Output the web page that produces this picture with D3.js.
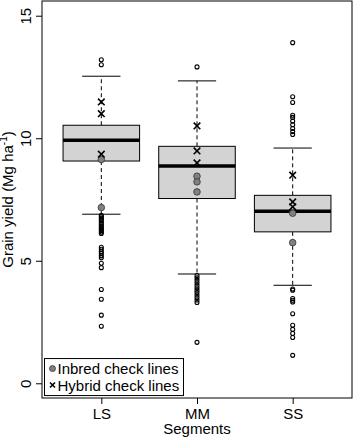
<!DOCTYPE html>
<html>
<head>
<meta charset="utf-8">
<script src="https://cdn.jsdelivr.net/npm/d3@7"></script>
<style>
  body { margin: 0; background: #fff; }
  text { font-family: "Liberation Sans", Arial, sans-serif; }
</style>
</head>
<body>
<div id="chart"></div>
<script>
// Segments on the x axis
const segments = ['LS', 'MM', 'SS'];

// Box statistics per segment (Mg ha-1)
const lowerWhisker = [6.9, 4.46, 4.0];
const q1 = [9.07, 7.54, 6.18];
const median = [9.92, 8.87, 7.02];
const q3 = [10.53, 9.67, 7.67];
const upperWhisker = [12.53, 12.34, 9.6];

// Outliers per segment
const lsOutliers = [13.2, 13.0, 6.86, 6.8, 6.74, 6.68, 6.62, 6.55, 6.48, 6.42, 6.36, 6.3, 6.24, 6.17, 6.11,
  5.55, 5.47, 5.38, 5.3, 5.2, 5.12, 4.9, 4.72, 3.83, 3.43, 2.78, 2.33];
const mmOutliers = [12.91, 4.4, 4.3, 4.2, 4.1, 4.0, 3.9, 3.8, 3.7, 3.6, 3.5, 3.4, 3.3, 1.67];
const ssOutliers = [13.9, 11.69, 11.46, 10.94, 10.85, 10.7, 10.55, 10.4, 10.27, 10.15,
  3.85, 3.8, 3.46, 3.39, 3.32, 2.84, 2.37, 2.2, 2.03, 1.87, 1.14];

// Check lines per segment
const lsInbred = [9.13, 7.17];
const mmInbred = [8.45, 8.22, 7.81];
const ssInbred = [6.94, 5.74];
const lsHybrid = [11.48, 11.0, 9.35];
const mmHybrid = [10.5, 9.48, 8.99];
const ssHybrid = [8.49, 7.4, 7.2];

const yTicks = [0, 5, 10, 15];
const legendLabels = ['Inbred check lines', 'Hybrid check lines'];

const outliers = [lsOutliers, mmOutliers, ssOutliers];
const inbred = [lsInbred, mmInbred, ssInbred];
const hybrid = [lsHybrid, mmHybrid, ssHybrid];

const width = 356;
const height = 440;
const margin = { top: 1, right: 4, bottom: 42, left: 42 };
const innerWidth = width - margin.left - margin.right;
const innerHeight = height - margin.top - margin.bottom;

const svg = d3.select('#chart')
  .append('svg')
  .attr('width', width)
  .attr('height', height)
  .append('g')
  .attr('transform', `translate(${margin.left},${margin.top})`);

// R-style extended ranges
const xScale = d3.scaleLinear()
  .domain([0.38, 3.62])
  .range([0, innerWidth]);

const yScale = d3.scaleLinear()
  .domain([-0.6, 15.6])
  .range([innerHeight, 0]);

const boxHalf = (xScale(1.4) - xScale(1)) ;
const capHalf = (xScale(1.2) - xScale(1));

segments.forEach((seg, i) => {
  const cx = xScale(i + 1);
  const g = svg.append('g');

  // Whiskers (dashed)
  g.append('line')
    .attr('x1', cx).attr('x2', cx)
    .attr('y1', yScale(q3[i])).attr('y2', yScale(upperWhisker[i]))
    .attr('stroke', '#000').attr('stroke-dasharray', '4,3');
  g.append('line')
    .attr('x1', cx).attr('x2', cx)
    .attr('y1', yScale(q1[i])).attr('y2', yScale(lowerWhisker[i]))
    .attr('stroke', '#000').attr('stroke-dasharray', '4,3');

  // Caps
  [upperWhisker[i], lowerWhisker[i]].forEach(v => {
    g.append('line')
      .attr('x1', cx - capHalf).attr('x2', cx + capHalf)
      .attr('y1', yScale(v)).attr('y2', yScale(v))
      .attr('stroke', '#000');
  });

  // Box
  g.append('rect')
    .attr('x', cx - boxHalf)
    .attr('y', yScale(q3[i]))
    .attr('width', boxHalf * 2)
    .attr('height', yScale(q1[i]) - yScale(q3[i]))
    .attr('fill', '#d3d3d3')
    .attr('stroke', '#000');

  // Median
  g.append('line')
    .attr('x1', cx - boxHalf).attr('x2', cx + boxHalf)
    .attr('y1', yScale(median[i])).attr('y2', yScale(median[i]))
    .attr('stroke', '#000').attr('stroke-width', 3.5);

  // Outliers
  g.selectAll('.out')
    .data(outliers[i])
    .join('circle')
    .attr('cx', cx)
    .attr('cy', d => yScale(d))
    .attr('r', 2)
    .attr('fill', 'none')
    .attr('stroke', '#000')
    .attr('stroke-width', 1.1);

  // Inbred checks
  g.selectAll('.inb')
    .data(inbred[i])
    .join('circle')
    .attr('cx', cx)
    .attr('cy', d => yScale(d))
    .attr('r', 3.3)
    .attr('fill', '#808080')
    .attr('stroke', '#333')
    .attr('stroke-width', 0.8);

  // Hybrid checks
  g.selectAll('.hyb')
    .data(hybrid[i])
    .join('path')
    .attr('d', d => {
      const y = yScale(d), s = 3.3;
      return `M${cx - s},${y - s}L${cx + s},${y + s}M${cx - s},${y + s}L${cx + s},${y - s}`;
    })
    .attr('stroke', '#000')
    .attr('stroke-width', 1.6);
});

// Frame
svg.append('rect')
  .attr('width', innerWidth)
  .attr('height', innerHeight)
  .attr('fill', 'none')
  .attr('stroke', '#000');

// Y axis
const yAxis = svg.append('g')
  .call(d3.axisLeft(yScale).tickValues(yTicks).tickSize(6).tickFormat(d3.format('d')));
yAxis.select('.domain').remove();
yAxis.selectAll('text')
  .attr('font-size', 15)
  .attr('font-family', '"Liberation Sans", Arial, sans-serif')
  .attr('transform', 'rotate(-90)')
  .attr('x', 0)
  .attr('dy', 0)
  .attr('y', -11)
  .attr('text-anchor', 'middle');

// X axis
const xAxis = svg.append('g')
  .attr('transform', `translate(0,${innerHeight})`)
  .call(d3.axisBottom(xScale).tickValues([1, 2, 3]).tickSize(6).tickFormat((d, i) => segments[i]));
xAxis.select('.domain').remove();
xAxis.selectAll('text')
  .attr('font-size', 15)
  .attr('font-family', '"Liberation Sans", Arial, sans-serif')
  .attr('y', 10);

// Axis titles
svg.append('text')
  .attr('x', innerWidth / 2)
  .attr('y', innerHeight + 36)
  .attr('text-anchor', 'middle')
  .attr('font-size', 15)
  .text('Segments');

const yTitle = svg.append('text')
  .attr('transform', `translate(${-29},${innerHeight / 2}) rotate(-90)`)
  .attr('text-anchor', 'middle')
  .attr('font-size', 15);
yTitle.append('tspan').text('Grain yield (Mg ha');
yTitle.append('tspan').attr('font-size', 10).attr('dy', -6).text('-1');
yTitle.append('tspan').attr('dy', 6).text(')');

// Legend (bottom left)
const legend = svg.append('g')
  .attr('transform', `translate(2.5,${yScale(-0.5) - 37})`);
legend.append('rect')
  .attr('width', 139)
  .attr('height', 37)
  .attr('fill', '#fff')
  .attr('stroke', '#000');
legend.append('circle')
  .attr('cx', 8).attr('cy', 10).attr('r', 3)
  .attr('fill', '#808080').attr('stroke', '#333').attr('stroke-width', 0.8);
legend.append('path')
  .attr('d', 'M5.5,24L10.5,29M5.5,29L10.5,24')
  .attr('stroke', '#000').attr('stroke-width', 1.6);
legendLabels.forEach((label, i) => {
  legend.append('text')
    .attr('x', 13)
    .attr('y', 15.5 + i * 16.5)
    .attr('font-size', 15)
    .text(label);
});
</script>
</body>
</html>
